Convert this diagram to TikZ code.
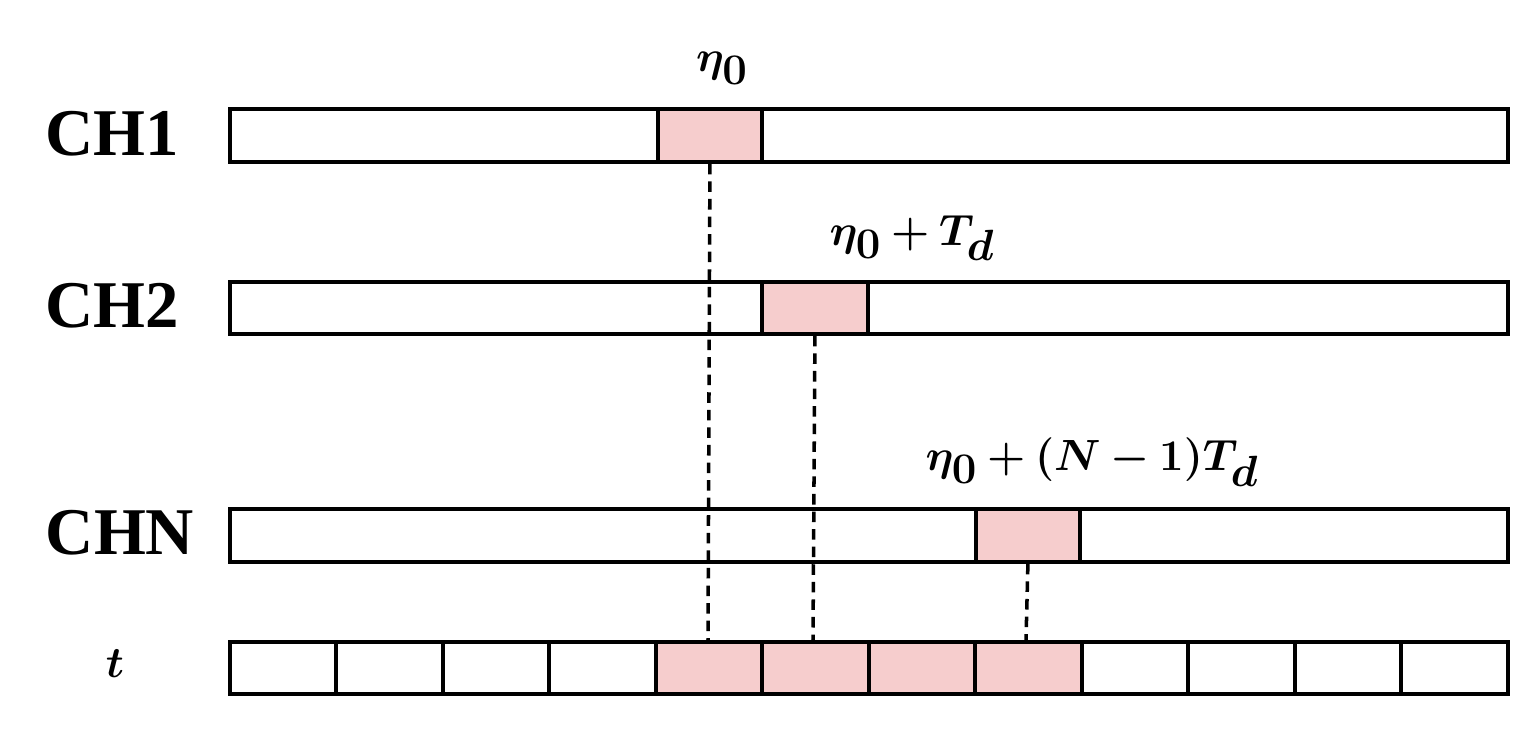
\documentclass[tikz,border=0pt]{standalone}
\usepackage{amsmath,bm}
\usepackage{fontspec}
\setmainfont{Liberation Serif}
\definecolor{pk}{RGB}{246,205,205}
\tikzset{
  bar/.style={draw=black,line width=2.2pt,fill=white},
  hot/.style={draw=black,line width=2.2pt,fill=pk},
  dl/.style={line width=2pt,dash pattern=on 6pt off 4pt},
  lab/.style={font=\fontsize{38}{42}\selectfont\bfseries},
  mlab/.style={font=\fontsize{36}{40}\selectfont}
}
\begin{document}
\begin{tikzpicture}[x=0.02cm,y=-0.02cm]
\useasboundingbox (0,0) rectangle (1536,729);
\node[bar,minimum width=25.56cm,minimum height=1.06cm,inner sep=0,anchor=north west] (b1) at (228,107) {};
\node[bar,minimum width=25.56cm,minimum height=1.04cm,inner sep=0,anchor=north west] (b2) at (228,280) {};
\node[bar,minimum width=25.56cm,minimum height=1.06cm,inner sep=0,anchor=north west] (bn) at (228,507) {};
\node[hot,minimum width=2.08cm,minimum height=1.06cm,inner sep=0,anchor=north west] (p1) at (656,107) {};
\node[hot,minimum width=2.12cm,minimum height=1.04cm,inner sep=0,anchor=north west] (p2) at (760,280) {};
\node[hot,minimum width=2.08cm,minimum height=1.06cm,inner sep=0,anchor=north west] (pn) at (974,507) {};
\foreach \i in {0,...,11}{
  \pgfmathsetmacro\xx{228+\i*106.5}
  \ifnum\i>3 \ifnum\i<8
    \node[hot,minimum width=2.13cm,minimum height=1.04cm,inner sep=0,anchor=north west] (c\i) at (\xx,640) {};
  \else
    \node[bar,minimum width=2.13cm,minimum height=1.04cm,inner sep=0,anchor=north west] (c\i) at (\xx,640) {};
  \fi\else
    \node[bar,minimum width=2.13cm,minimum height=1.04cm,inner sep=0,anchor=north west] (c\i) at (\xx,640) {};
  \fi
}
\coordinate (d1) at (708,640); \coordinate (d2) at (813,640); \coordinate (d3) at (1026,640);
\draw[dl] (p1.south) -- (d1);
\draw[dl] (p2.south) -- (d2);
\draw[dl] (pn.south) -- (d3);
\node[lab] (l1) at (112,134) {CH1};
\node[lab] (l2) at (112,306) {CH2};
\node[lab] (l3) at (120,533) {CHN};
\node[lab] (l4) at (115,664) {$\bm{t}$};
\node[mlab] (m1) at (722,68) {$\bm{\eta_0}$};
\node[mlab] (m2) at (912,238) {$\bm{\eta_0+T_d}$};
\node[mlab] (m3) at (1092,462) {$\bm{\eta_0+(N-1)T_d}$};
\end{tikzpicture}
\end{document}
